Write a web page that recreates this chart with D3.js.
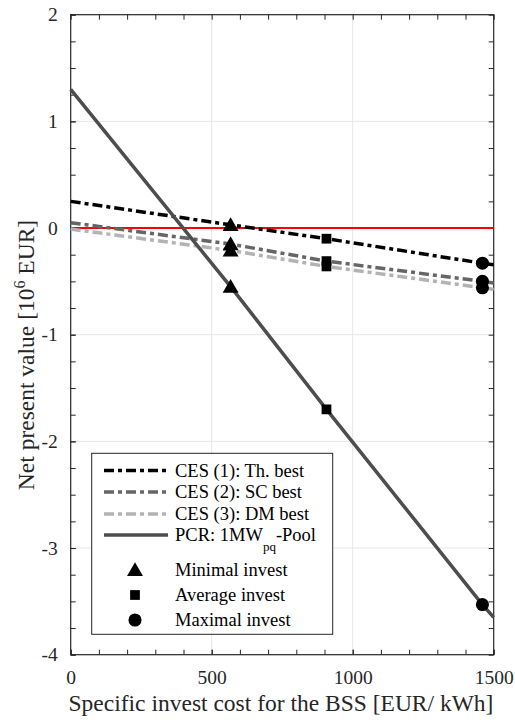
<!DOCTYPE html>
<html>
<head>
    <meta charset="utf-8">
    <title>Net present value</title>
    <script src="https://d3js.org/d3.v7.min.js"></script>
    <style>
        body { margin: 0; background: #fff; }
        svg { font-family: "Liberation Serif", "Times New Roman", serif; }
        .axis .tick text { font-size: 19.5px; fill: #262626; font-family: "Liberation Serif", serif; }
        .axis path, .axis line { stroke: #262626; }
        .legend-text { font-size: 18.5px; fill: #000; }
    </style>
</head>
<body>
    <div id="graph"></div>
    <script>
        // invest cost points [EUR/kWh]: line start, minimal, average, maximal, line end
        const costs = [0, 567, 907, 1460, 1500];
        // net present value [10^6 EUR]
        const ces1 = [0.25, 0.03, -0.10, -0.33, -0.345];
        const ces2 = [0.05, -0.15, -0.31, -0.50, -0.515];
        const ces3 = [-0.01, -0.21, -0.36, -0.56, -0.575];
        const pcr = [1.30, -0.55, -1.70, -3.53, -3.65];
        const xTicks = [0, 500, 1000, 1500];
        const yTicks = [-4, -3, -2, -1, 0, 1, 2];
        const legendLabels = ["CES (1): Th. best", "CES (2): SC best", "CES (3): DM best", "PCR: 1MW", "Minimal invest", "Average invest", "Maximal invest"];

        const width = 515, height = 722;
        const margin = { top: 14.7, right: 21.3, bottom: 67.3, left: 70.7 };

        const svg = d3.select("#graph").append("svg")
            .attr("width", width)
            .attr("height", height);

        const x = d3.scaleLinear().domain([0, 1500]).range([margin.left, width - margin.right]);
        const y = d3.scaleLinear().domain([-4, 2]).range([height - margin.bottom, margin.top]);

        // grid
        svg.append("g").selectAll("line")
            .data(xTicks.slice(1, -1))
            .join("line")
            .attr("x1", d => x(d)).attr("x2", d => x(d))
            .attr("y1", y(-4)).attr("y2", y(2))
            .attr("stroke", "#e6e6e6").attr("stroke-width", 1);
        svg.append("g").selectAll("line")
            .data(yTicks.slice(1, -1))
            .join("line")
            .attr("x1", x(0)).attr("x2", x(1500))
            .attr("y1", d => y(d)).attr("y2", d => y(d))
            .attr("stroke", "#e6e6e6").attr("stroke-width", 1);

        // axes with inward ticks
        const xMinor = d3.range(0, 1501, 100);
        const yMinor = d3.range(-4, 2.01, 0.25);
        const bottom = height - margin.bottom, right = width - margin.right;
        const plain = d => String(d); // hyphen minus like the original

        svg.append("g").attr("class", "axis")
            .attr("transform", "translate(0," + bottom + ")")
            .call(d3.axisBottom(x).tickValues(xMinor).tickSize(-5).tickFormat(""));
        svg.append("g").attr("class", "axis")
            .attr("transform", "translate(0," + bottom + ")")
            .call(d3.axisBottom(x).tickValues(xTicks).tickSize(-5).tickPadding(15).tickFormat(plain));
        svg.append("g").attr("class", "axis")
            .attr("transform", "translate(0," + margin.top + ")")
            .call(d3.axisTop(x).tickValues(xMinor).tickSize(-5).tickFormat(""));
        svg.append("g").attr("class", "axis")
            .attr("transform", "translate(" + margin.left + ",0)")
            .call(d3.axisLeft(y).tickValues(yMinor).tickSize(-5).tickFormat(""));
        svg.append("g").attr("class", "axis")
            .attr("transform", "translate(" + margin.left + ",0)")
            .call(d3.axisLeft(y).tickValues(yTicks).tickSize(-5).tickPadding(13).tickFormat(plain));
        svg.append("g").attr("class", "axis")
            .attr("transform", "translate(" + right + ",0)")
            .call(d3.axisRight(y).tickValues(yMinor).tickSize(-5).tickFormat(""));
        svg.selectAll(".axis .domain").remove();
        svg.selectAll(".axis").attr("font-family", null).attr("font-size", null);

        svg.append("rect")
            .attr("x", x(0)).attr("y", y(2))
            .attr("width", x(1500) - x(0)).attr("height", y(-4) - y(2))
            .attr("fill", "none").attr("stroke", "#262626").attr("stroke-width", 1.2);

        // zero line
        svg.append("line")
            .attr("x1", x(0)).attr("x2", x(1500))
            .attr("y1", y(0)).attr("y2", y(0))
            .attr("stroke", "#ff0000").attr("stroke-width", 2);

        const series = [
            { vals: ces1, color: "#000000", dash: "10,4,4,4" },
            { vals: ces2, color: "#666666", dash: "10,4,4,4" },
            { vals: ces3, color: "#b3b3b3", dash: "10,4,4,4" },
            { vals: pcr, color: "#4d4d4d", dash: null }
        ];

        const line = d3.line().x((d, i) => x(costs[i])).y(d => y(d));
        const plot = svg.append("g");

        series.forEach(s => {
            plot.append("path")
                .datum(s.vals)
                .attr("d", line)
                .attr("fill", "none")
                .attr("stroke", s.color)
                .attr("stroke-width", 3.5)
                .attr("stroke-dasharray", s.dash);
        });

        // markers: triangle at minimal, square at average, circle at maximal
        const symbols = [d3.symbolTriangle, d3.symbolSquare, d3.symbolCircle];
        const sizes = [110, 95, 135];
        series.forEach(s => {
            [1, 2, 3].forEach((idx, k) => {
                plot.append("path")
                    .attr("d", d3.symbol().type(symbols[k]).size(sizes[k]))
                    .attr("transform", "translate(" + x(costs[idx]) + "," + (y(s.vals[idx]) + (k == 0 ? 1.5 : 0)) + ")")
                    .attr("fill", "#000");
            });
        });

        // axis titles
        svg.append("text")
            .attr("x", 281)
            .attr("y", 711)
            .attr("text-anchor", "middle")
            .attr("font-size", 23.5)
            .attr("fill", "#262626")
            .text("Specific invest cost for the BSS [EUR/ kWh]");

        const yl = svg.append("text")
            .attr("transform", "translate(34,355) rotate(-90)")
            .attr("text-anchor", "middle")
            .attr("font-size", 23.5)
            .attr("fill", "#262626");
        yl.append("tspan").text("Net present value [10");
        yl.append("tspan").attr("font-size", 16).attr("dy", -9).text("6");
        yl.append("tspan").attr("dy", 9).text(" EUR]");

        // legend
        const lg = svg.append("g");
        lg.append("rect")
            .attr("x", 91.7).attr("y", 453.3)
            .attr("width", 241).attr("height", 181)
            .attr("fill", "#fff").attr("stroke", "#262626").attr("stroke-width", 1);

        const rowY = [470.5, 492, 514, 535, 570, 595, 620];
        series.forEach((s, i) => {
            lg.append("line")
                .attr("x1", 104).attr("x2", 168)
                .attr("y1", rowY[i]).attr("y2", rowY[i])
                .attr("stroke", s.color)
                .attr("stroke-width", 3.5)
                .attr("stroke-dasharray", s.dash);
        });
        symbols.forEach((sym, k) => {
            lg.append("path")
                .attr("d", d3.symbol().type(sym).size(sizes[k]))
                .attr("transform", "translate(135," + (rowY[4 + k] + (k == 0 ? 1.5 : 0)) + ")")
                .attr("fill", "#000");
        });
        legendLabels.forEach((t, i) => {
            const tx = lg.append("text")
                .attr("class", "legend-text")
                .attr("x", 175).attr("y", rowY[i] + 6)
                .text(t);
            if (i == 3) {
                tx.append("tspan").attr("font-size", 13).attr("dy", 10).text("pq");
                tx.append("tspan").attr("dy", -10).text("-Pool");
            }
        });
    </script>
</body>
</html>
